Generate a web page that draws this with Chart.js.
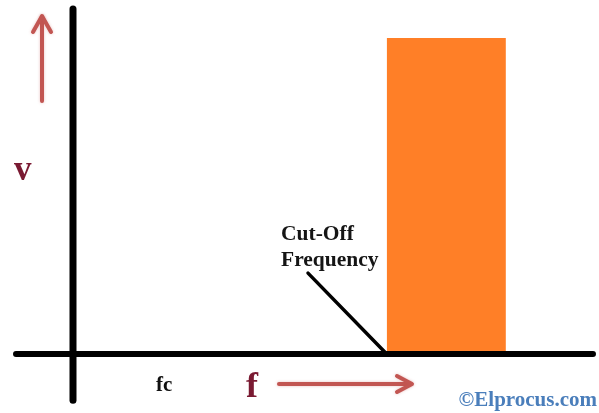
<!DOCTYPE html>
<html>
<head>
<meta charset="utf-8">
<script src="https://cdn.jsdelivr.net/npm/chart.js@4/dist/chart.umd.min.js"></script>
<style>
  html, body { margin: 0; padding: 0; background: #ffffff; }
  #wrap { width: 599px; height: 413px; position: relative; }
</style>
</head>
<body>
<div id="wrap"><canvas id="c"></canvas></div>
<script>
// ---- Data ----
// Frequency axis in arbitrary units, response (v) normalised to 1
const cutoffFrequency = 5;          // fc
const bandEnd = 6.9;                // right edge of the pass band
const passBandLevel = 1;            // height of the block
const xAxisExtent = [-0.908, 8.288];
const yAxisExtent = [-0.146, 1.092];
const leaderStart = [3.746, 0.256]; // start of the "Cut-Off Frequency" pointer
const axisLabels = ['v', 'f'];
const cutoffLabel = ['Cut-Off', 'Frequency'];
const fcLabel = 'fc';
const creditText = '\u00A9Elprocus.com';

const bandPoints = [
  { x: cutoffFrequency, y: 0 },
  { x: cutoffFrequency, y: passBandLevel },
  { x: bandEnd, y: passBandLevel },
  { x: bandEnd, y: 0 }
];
const xAxisPoints = [{ x: xAxisExtent[0], y: 0 }, { x: xAxisExtent[1], y: 0 }];
const yAxisPoints = [{ x: 0, y: yAxisExtent[0] }, { x: 0, y: yAxisExtent[1] }];
const leaderPoints = [{ x: leaderStart[0], y: leaderStart[1] }, { x: cutoffFrequency, y: 0 }];

const SERIF = '"Liberation Serif", "Times New Roman", serif';
const ARROW = 'rgb(194,86,82)';

const decorPlugin = {
  id: 'decor',
  afterDatasetsDraw(chart) {
    const ctx = chart.ctx;
    ctx.save();
    // arrows
    ctx.strokeStyle = ARROW;
    ctx.lineWidth = 4;
    ctx.lineCap = 'round';
    ctx.lineJoin = 'round';
    ctx.shadowColor = 'rgba(192,80,77,0.35)';
    ctx.shadowBlur = 3;
    // up arrow
    ctx.beginPath();
    ctx.moveTo(42, 101); ctx.lineTo(42, 17);
    ctx.stroke();
    ctx.beginPath();
    ctx.moveTo(33, 32); ctx.lineTo(42, 16); ctx.lineTo(51, 32);
    ctx.stroke();
    // right arrow
    ctx.beginPath();
    ctx.moveTo(279, 384); ctx.lineTo(410, 384);
    ctx.stroke();
    ctx.beginPath();
    ctx.moveTo(397, 376); ctx.lineTo(412, 384); ctx.lineTo(397, 392);
    ctx.stroke();
    ctx.shadowBlur = 0;
    ctx.shadowColor = 'transparent';

    // texts
    ctx.textAlign = 'left';
    ctx.textBaseline = 'alphabetic';
    ctx.fillStyle = '#7a1a32';
    ctx.font = 'bold 35px ' + SERIF;
    ctx.fillText(axisLabels[0], 14, 180);
    ctx.font = 'bold 36px ' + SERIF;
    ctx.fillText(axisLabels[1], 246, 397);

    ctx.fillStyle = '#111111';
    ctx.font = 'bold 21px ' + SERIF;
    ctx.fillText(fcLabel, 156, 391);
    ctx.fillStyle = '#151515';
    ctx.font = 'bold 21.5px ' + SERIF;
    ctx.fillText(cutoffLabel[0], 281, 240);
    ctx.fillText(cutoffLabel[1], 281, 266);

    ctx.fillStyle = '#4a7ebb';
    ctx.font = 'bold 21px ' + SERIF;
    ctx.textAlign = 'right';
    ctx.fillText(creditText, 597, 406);
    ctx.restore();
  }
};

new Chart(document.getElementById('c'), {
  type: 'scatter',
  data: {
    datasets: [
      {
        label: 'pass band',
        data: bandPoints,
        showLine: true,
        borderWidth: 0,
        borderColor: 'rgba(0,0,0,0)',
        backgroundColor: 'rgb(255,127,39)',
        fill: 'origin',
        pointRadius: 0,
        tension: 0,
        order: 3
      },
      {
        label: 'x axis',
        data: xAxisPoints,
        showLine: true,
        borderWidth: 6,
        borderColor: '#000000',
        borderCapStyle: 'round',
        pointRadius: 0,
        fill: false,
        order: 1
      },
      {
        label: 'y axis',
        data: yAxisPoints,
        showLine: true,
        borderWidth: 7,
        borderColor: '#000000',
        borderCapStyle: 'round',
        pointRadius: 0,
        fill: false,
        order: 1
      },
      {
        label: 'cut-off pointer',
        data: leaderPoints,
        showLine: true,
        borderWidth: 3.5,
        borderColor: '#000000',
        borderCapStyle: 'round',
        pointRadius: 0,
        fill: false,
        order: 2
      }
    ]
  },
  options: {
    responsive: true,
    maintainAspectRatio: false,
    animation: false,
    layout: { padding: 0 },
    plugins: {
      legend: { display: false },
      tooltip: { enabled: false }
    },
    scales: {
      x: { type: 'linear', display: false, min: -1.1635, max: 8.384 },
      y: { type: 'linear', display: false, min: -0.1867, max: 1.1203 }
    }
  },
  plugins: [decorPlugin]
});
</script>
</body>
</html>
